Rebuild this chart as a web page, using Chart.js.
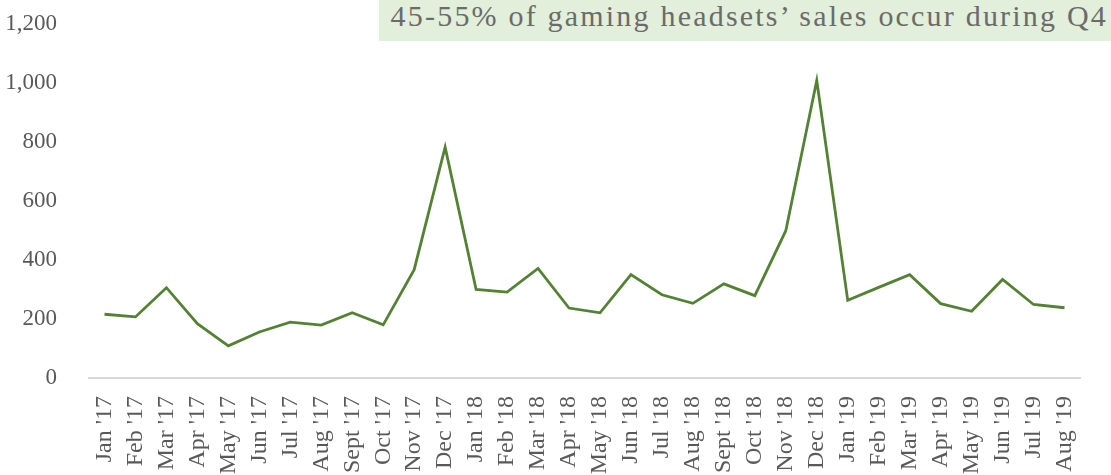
<!DOCTYPE html>
<html>
<head>
<meta charset="utf-8">
<script src="https://cdn.jsdelivr.net/npm/chart.js@4/dist/chart.umd.min.js"></script>
<style>
  body { margin: 0; background: #fff; }
  #wrap { position: relative; width: 1111px; height: 475px; overflow: hidden; }
  #salesChart { position: absolute; left: 0; top: -14px; }
  #note {
    position: absolute; left: 379px; top: 0; width: 732px; height: 41px;
    background: #e2efda; color: #6b6b6b;
    font-family: 'Liberation Serif', serif; font-size: 30px; letter-spacing: 2.2px;
    line-height: 32px; text-align: right; padding-right: 3px; box-sizing: border-box;
    white-space: nowrap; overflow: hidden;
  }
</style>
</head>
<body>
<div id="wrap">
  <canvas id="salesChart" width="1111" height="489"></canvas>
  <div id="note">45-55% of gaming headsets’ sales occur during Q4</div>
</div>
<script>
const months = ["Jan '17","Feb '17","Mar '17","Apr '17","May '17","Jun '17","Jul '17","Aug '17","Sept '17","Oct '17","Nov '17","Dec '17",
  "Jan '18","Feb '18","Mar '18","Apr '18","May '18","Jun '18","Jul '18","Aug '18","Sept '18","Oct '18","Nov '18","Dec '18",
  "Jan '19","Feb '19","Mar '19","Apr '19","May '19","Jun '19","Jul '19","Aug '19"];
const sales = [216, 207, 306, 184, 109, 156, 189, 179, 221, 180, 367, 782,
  300, 291, 371, 237, 221, 350, 282, 253, 319, 279, 499, 1008,
  263, 307, 350, 252, 226, 334, 249, 238];
const yTicks = [0, 200, 400, 600, 800, 1000, 1200];

const serif = "'Liberation Serif', serif";

new Chart(document.getElementById('salesChart'), {
  type: 'line',
  data: {
    labels: months,
    datasets: [{
      label: 'Gaming headsets',
      data: sales,
      borderColor: '#548235',
      borderWidth: 2.8,
      pointRadius: 0,
      tension: 0,
      fill: false
    }]
  },
  options: {
    responsive: false,
    animation: false,
    layout: { padding: { top: 0, right: 31, left: 0, bottom: 0 } },
    plugins: { legend: { display: false }, tooltip: { enabled: false } },
    scales: {
      x: {
        offset: true,
        grid: { display: false },
        border: { color: '#d9d9d9', width: 2 },
        ticks: {
          color: '#595959', font: { family: serif, size: 24 },
          minRotation: 90, maxRotation: 90, autoSkip: false, padding: 10
        },
        afterFit: s => { s.height = 97; }
      },
      y: {
        min: 0, max: 1200,
        afterBuildTicks: s => { s.ticks = yTicks.map(v => ({ value: v })); },
        grid: { display: false },
        border: { display: false },
        ticks: {
          color: '#595959', font: { family: serif, size: 23 }, padding: 24,
          callback: v => v.toLocaleString('en-US')
        },
        afterFit: s => { s.width = 89; }
      }
    }
  }
});
</script>
</body>
</html>
